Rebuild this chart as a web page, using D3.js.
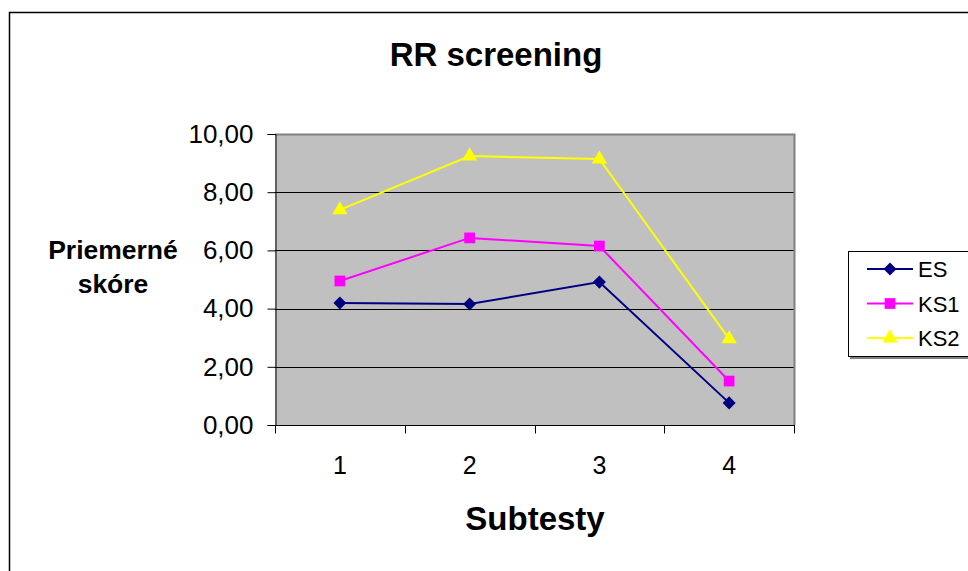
<!DOCTYPE html>
<html>
<head>
<meta charset="utf-8">
<script src="https://cdn.jsdelivr.net/npm/d3@7"></script>
<style>
  html, body { margin: 0; padding: 0; background: #fff; }
  svg { display: block; font-family: Arial, "Liberation Sans", sans-serif; }
</style>
</head>
<body>
<svg id="chart" width="968" height="571"></svg>
<script>
// Subtest categories and mean scores per group
const categories = ["1", "2", "3", "4"];
const seriesNames = ["ES", "KS1", "KS2"];
const esValues  = [4.19, 4.16, 4.91, 0.76];
const ks1Values = [4.95, 6.43, 6.15, 1.51];
const ks2Values = [7.39, 9.24, 9.14, 2.96];
const yTicks = [0, 2, 4, 6, 8, 10];

// Marker shapes: rotated square (diamond), square, triangle
const diamond = d3.symbol().type(d3.symbolSquare).size(85);
const square = d3.symbol().type(d3.symbolSquare).size(115);
const triangle = d3.symbol().type(d3.symbolTriangle).size(100);

const series = [
  { name: seriesNames[0], values: esValues,  color: "#000080", shape: diamond, rotate: 45 },
  { name: seriesNames[1], values: ks1Values, color: "#FF00FF", shape: square, rotate: 0 },
  { name: seriesNames[2], values: ks2Values, color: "#FFFF00", shape: triangle, rotate: 0 }
];

const svg = d3.select("#chart");
const plot = { left: 275, right: 794, top: 134, bottom: 425 };

// Outer chart frame
svg.append("rect")
  .attr("x", 9.5).attr("y", 12.5)
  .attr("width", 980).attr("height", 580)
  .attr("fill", "#fff").attr("stroke", "#000").attr("stroke-width", 1.5);

const x = d3.scaleBand().domain(categories).range([plot.left, plot.right]);
const y = d3.scaleLinear().domain([0, 10]).range([plot.bottom, plot.top]);
const fmt = v => d3.format(".2f")(v).replace(".", ",");
const cx = i => x(categories[i]) + x.bandwidth() / 2;

// Plot area background
svg.append("rect")
  .attr("x", plot.left).attr("y", plot.top)
  .attr("width", plot.right - plot.left).attr("height", plot.bottom - plot.top)
  .attr("fill", "#C0C0C0");

// Horizontal gridlines
svg.append("g").selectAll("line")
  .data(yTicks.slice(1))
  .join("line")
  .attr("x1", plot.left).attr("x2", plot.right)
  .attr("y1", d => Math.round(y(d)) + 0.5).attr("y2", d => Math.round(y(d)) + 0.5)
  .attr("stroke", "#000").attr("stroke-width", 1);

// Plot area border (top/right edges)
svg.append("path")
  .attr("d", `M${plot.left},${plot.top + 0.5}H${plot.right + 0.5}V${plot.bottom}`)
  .attr("fill", "none").attr("stroke", "#808080").attr("stroke-width", 2);

// Y axis
const yAxis = svg.append("g")
  .attr("transform", `translate(${plot.left + 0.5},0)`)
  .call(d3.axisLeft(y).tickValues(yTicks).tickFormat(fmt).tickSize(8).tickPadding(14));
yAxis.select(".domain").attr("stroke", "#000");
yAxis.selectAll(".tick line").attr("stroke", "#000");
yAxis.selectAll("text").attr("font-size", 26).attr("fill", "#000")
  .attr("font-family", "Arial, 'Liberation Sans', sans-serif");

// X axis with ticks between categories
const xAxis = svg.append("g")
  .attr("transform", `translate(0,${plot.bottom + 0.5})`);
xAxis.append("line")
  .attr("x1", plot.left).attr("x2", plot.right + 1)
  .attr("stroke", "#000");
const boundaries = categories.map(c => x(c)).concat([x(categories[categories.length - 1]) + x.bandwidth()]);
xAxis.selectAll("line.tick")
  .data(boundaries)
  .join("line").attr("class", "tick")
  .attr("x1", d => Math.round(d) + 0.5).attr("x2", d => Math.round(d) + 0.5)
  .attr("y1", 0).attr("y2", 8)
  .attr("stroke", "#000");
xAxis.selectAll("text")
  .data(categories)
  .join("text")
  .attr("x", (d, i) => cx(i))
  .attr("y", 48)
  .attr("text-anchor", "middle")
  .attr("font-size", 25)
  .text(d => d);

// Series lines and markers
const line = d3.line()
  .x((d, i) => cx(i))
  .y(d => y(d));

series.forEach(s => {
  svg.append("path")
    .datum(s.values)
    .attr("d", line)
    .attr("fill", "none")
    .attr("stroke", s.color)
    .attr("stroke-width", 2);
  svg.append("g").selectAll("path")
    .data(s.values)
    .join("path")
    .attr("transform", (d, i) => `translate(${cx(i)},${y(d)}) rotate(${s.rotate})`)
    .attr("d", s.shape())
    .attr("fill", s.color);
});

// Title and axis titles
svg.append("text")
  .attr("x", 496).attr("y", 66)
  .attr("text-anchor", "middle")
  .attr("font-size", 33).attr("font-weight", "bold")
  .text("RR screening");

const yTitle = svg.append("text")
  .attr("text-anchor", "middle")
  .attr("font-size", 26.5).attr("font-weight", "bold");
yTitle.append("tspan").attr("x", 113).attr("y", 259).text("Priemerné");
yTitle.append("tspan").attr("x", 113).attr("y", 293).text("skóre");

svg.append("text")
  .attr("x", 535).attr("y", 530)
  .attr("text-anchor", "middle")
  .attr("font-size", 33).attr("font-weight", "bold")
  .text("Subtesty");

// Legend
const legend = svg.append("g");
legend.append("rect")
  .attr("x", 850).attr("y", 253).attr("width", 130).attr("height", 106)
  .attr("fill", "#808080");
legend.append("rect")
  .attr("x", 848.5).attr("y", 251.5).attr("width", 130).attr("height", 105)
  .attr("fill", "#fff").attr("stroke", "#000").attr("stroke-width", 1);

const legendRows = legend.selectAll("g.row")
  .data(series)
  .join("g").attr("class", "row")
  .attr("transform", (d, i) => `translate(0,${269 + i * 34.5})`);
legendRows.append("line")
  .attr("x1", 867).attr("x2", 913)
  .attr("stroke", d => d.color).attr("stroke-width", 2);
legendRows.append("path")
  .attr("transform", d => `translate(890,0) rotate(${d.rotate})`)
  .attr("d", d => d.shape())
  .attr("fill", d => d.color);
legendRows.append("text")
  .attr("x", 918).attr("y", 8)
  .attr("font-size", 22)
  .text(d => d.name);
</script>
</body>
</html>
